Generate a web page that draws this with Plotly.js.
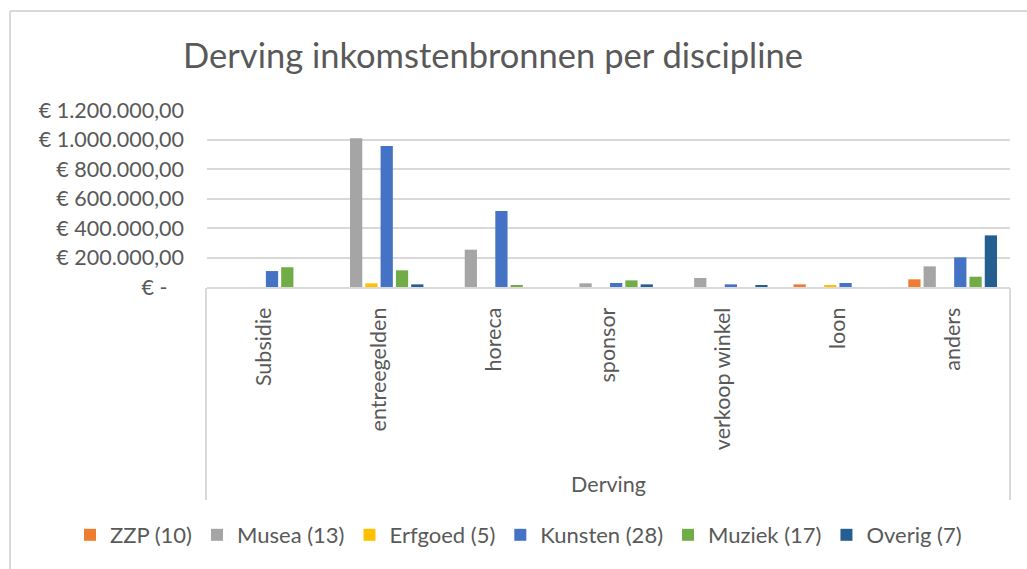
<!DOCTYPE html>
<html>
<head>
<meta charset="utf-8">
<script src="https://cdn.plot.ly/plotly-3.0.1.min.js"></script>
<style>
  html, body { margin: 0; padding: 0; background: #ffffff; }
  #chart { width: 1027px; height: 569px; }
</style>
</head>
<body>
<div id="chart"></div>
<script>
// ---- data ----
var categories = ["Subsidie", "entreegelden", "horeca", "sponsor", "verkoop winkel", "loon", "anders"];
var seriesNames = ["ZZP (10)", "Musea (13)", "Erfgoed (5)", "Kunsten (28)", "Muziek (17)", "Overig (7)"];
var zzp     = [0, 0, 0, 0, 0, 18000, 52000];
var musea   = [0, 1008000, 253000, 25000, 61000, 0, 140000];
var erfgoed = [0, 25000, 0, 0, 0, 9000, 0];
var kunsten = [108000, 956000, 515000, 27000, 18000, 27000, 201000];
var muziek  = [134000, 113000, 11000, 45000, 0, 0, 70000];
var overig  = [0, 18000, 0, 18000, 9000, 0, 350000];
var yTickVals = [0, 200000, 400000, 600000, 800000, 1000000, 1200000];
var yTickText = ["€ -\u00a0\u00a0\u00a0", "€ 200.000,00", "€ 400.000,00", "€ 600.000,00", "€ 800.000,00", "€ 1.000.000,00", "€ 1.200.000,00"];

// ---- styling ----
var colors = ["#ED7D31", "#A5A5A5", "#FFC000", "#4472C4", "#70AD47", "#255E91"];
var values = [zzp, musea, erfgoed, kunsten, muziek, overig];
var FONT = "Lato, 'Open Sans', sans-serif";
var TXT = "#595959";
var GRID = "#d9d9d9";

var traces = values.map(function (v, i) {
  return {
    type: "bar",
    name: seriesNames[i],
    x: categories,
    y: v,
    marker: { color: colors[i] },
    hoverinfo: "x+y+name"
  };
});

// pixel geometry helpers
var L = 207, R = 17, T = 110, B = 282, W = 1027, H = 569;
var pw = W - L - R, ph = H - T - B;
function px(x) { return (x - L) / pw; }
function py(y) { return (H - B - y) / ph; }

var layout = {
  width: W, height: H,
  paper_bgcolor: "#ffffff",
  plot_bgcolor: "#ffffff",
  margin: { l: L, r: R, t: T, b: B, pad: 0 },
  font: { family: FONT, color: TXT, size: 21 },
  title: {
    text: "Derving inkomstenbronnen per discipline",
    font: { family: FONT, size: 34.5, color: TXT },
    xref: "container", x: 493 / W, xanchor: "center",
    yref: "container", y: 1 - 56 / H, yanchor: "middle"
  },
  barmode: "group",
  bargap: 0.2,
  bargroupgap: 0.2,
  showlegend: true,
  legend: {
    orientation: "h",
    xref: "paper", x: px(70), xanchor: "left",
    yref: "paper", y: py(535), yanchor: "middle",
    font: { family: FONT, size: 22, color: TXT },
    traceorder: "normal",
    itemwidth: 30,
    bgcolor: "rgba(0,0,0,0)"
  },
  xaxis: {
    type: "category",
    tickangle: -90,
    ticks: "",
    ticklabelstandoff: 10,
    tickfont: { family: FONT, size: 21.5, color: TXT },
    showline: true, linecolor: GRID, linewidth: 2,
    showgrid: false,
    automargin: false,
    title: { text: "Derving", font: { family: FONT, size: 21.5, color: TXT }, standoff: 28 }
  },
  yaxis: {
    range: [0, 1200000],
    tickvals: yTickVals,
    ticktext: yTickText,
    ticks: "",
    ticklabelstandoff: 22,
    tickfont: { family: FONT, size: 21.5, color: TXT },
    showgrid: true, gridcolor: GRID, gridwidth: 2,
    zeroline: false,
    showline: false,
    automargin: false,
    fixedrange: true
  },
  shapes: [
    // category axis box
    { type: "line", xref: "paper", yref: "paper", x0: px(206), x1: px(206), y0: py(288), y1: py(500), line: { color: GRID, width: 2 } },
    { type: "line", xref: "paper", yref: "paper", x0: px(1010), x1: px(1010), y0: py(288), y1: py(500), line: { color: GRID, width: 2 } },
    // chart frame
    { type: "line", xref: "paper", yref: "paper", x0: px(10), x1: px(1040), y0: py(11), y1: py(11), line: { color: GRID, width: 2 } },
    { type: "line", xref: "paper", yref: "paper", x0: px(10), x1: px(10), y0: py(11), y1: py(590), line: { color: GRID, width: 2 } }
  ]
};

Plotly.newPlot("chart", traces, layout, { displayModeBar: false });
</script>
</body>
</html>
